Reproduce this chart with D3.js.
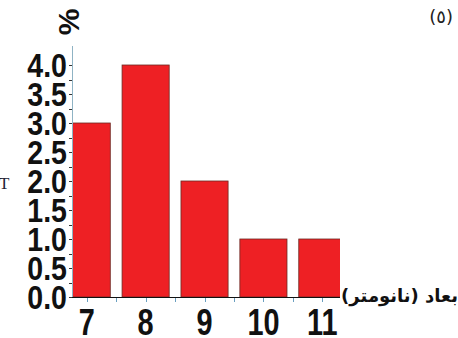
<!doctype html>
<html>
<head>
    <meta charset="utf-8"/>
    <style>
        html, body { margin: 0; padding: 0; background: #fff; }
        svg { display: block; }
        .num { font-family: "Liberation Sans", Arial, sans-serif; font-weight: bold; fill: #111; }
    </style>
    <script src="https://d3js.org/d3.v7.min.js"></script>
</head>
<body>
<svg width="458" height="338"></svg>
<script>

    // particle size (nm) and share (%)
    var sizes = [7, 8, 9, 10, 11];
    var percents = [3.0, 4.0, 2.0, 1.0, 1.0];
    var yTicks = [0, 0.5, 1, 1.5, 2, 2.5, 3, 3.5, 4];

    var svg = d3.select("svg");

    var left = 72, right = 340, bottom = 297;

    var x = d3.scaleLinear().domain([6.75, 11.3]).range([left, right]);
    var y = d3.scaleLinear().domain([0, 4]).range([bottom, 65]);
    var barW = (x(8) - x(7)) * 0.8;

    svg.append("clipPath").attr("id", "plot")
        .append("rect")
        .attr("x", left).attr("y", 0)
        .attr("width", right - left).attr("height", bottom);

    // bars
    svg.append("g").attr("clip-path", "url(#plot)")
        .selectAll("rect")
        .data(sizes)
        .join("rect")
        .attr("x", function(d) { return x(d) - barW / 2; })
        .attr("y", function(d, i) { return y(percents[i]); })
        .attr("width", barW)
        .attr("height", function(d, i) { return bottom - y(percents[i]); })
        .attr("fill", "#ee2024")
        .attr("stroke", "#6b2a24")
        .attr("stroke-width", 0.8);

    // y axis line + ticks
    svg.append("line")
        .attr("x1", left + 0.5).attr("x2", left + 0.5)
        .attr("y1", 46).attr("y2", bottom)
        .attr("stroke", "#8fb3c4").attr("stroke-width", 1);

    svg.append("g").selectAll("line")
        .data(d3.range(0, 4.01, 0.25))
        .join("line")
        .attr("x1", left - 3).attr("x2", left)
        .attr("y1", function(d) { return Math.round(y(d)) + 0.5; })
        .attr("y2", function(d) { return Math.round(y(d)) + 0.5; })
        .attr("stroke", "#333").attr("stroke-width", 1);

    // x axis line + ticks
    svg.append("line")
        .attr("x1", left).attr("x2", right)
        .attr("y1", bottom + 0.5).attr("y2", bottom + 0.5)
        .attr("stroke", "#111").attr("stroke-width", 1.2);

    svg.append("g").selectAll("line")
        .data(d3.range(7, 11.01, 0.5))
        .join("line")
        .attr("x1", function(d) { return Math.round(x(d)) + 0.5; })
        .attr("x2", function(d) { return Math.round(x(d)) + 0.5; })
        .attr("y1", bottom + 1).attr("y2", bottom + 5)
        .attr("stroke", "#6a9fc0").attr("stroke-width", 1);

    // condensed bold numbers
    function squeezed(g, tx, ty, sx, size, anchor, txt) {
        g.append("text")
            .attr("class", "num")
            .attr("transform", "translate(" + tx + "," + ty + ") scale(" + sx + ",1)")
            .attr("text-anchor", anchor)
            .attr("font-size", size)
            .text(txt);
    }

    var yl = svg.append("g");
    yTicks.forEach(function(v) {
        squeezed(yl, 67, y(v) + 12, 0.84, 34, "end", d3.format(".1f")(v));
    });

    var xl = svg.append("g");
    sizes.forEach(function(v) {
        squeezed(xl, x(v), 335, 0.78, 37, "middle", String(v));
    });

    // axis titles
    svg.append("text")
        .attr("class", "num")
        .attr("transform", "translate(79,22) rotate(-90)")
        .attr("text-anchor", "middle")
        .attr("font-size", 30)
        .text("%");

    svg.append("text")
        .attr("x", 458).attr("y", 302)
        .attr("text-anchor", "end")
        .attr("font-family", "'DejaVu Sans', 'Noto Sans', sans-serif")
        .attr("font-weight", "bold")
        .attr("font-size", 18)
        .attr("fill", "#111")
        .text("بعاد (نانومتر)");

    svg.append("text")
        .attr("x", 453).attr("y", 23)
        .attr("text-anchor", "end")
        .attr("font-family", "'DejaVu Sans', sans-serif")
        .attr("font-size", 18)
        .attr("fill", "#222")
        .text("(٥)");

    svg.append("text")
        .attr("x", -1).attr("y", 189)
        .attr("font-family", "'Liberation Serif', serif")
        .attr("font-size", 17)
        .attr("fill", "#223")
        .text("T");

</script>
</body>
</html>
